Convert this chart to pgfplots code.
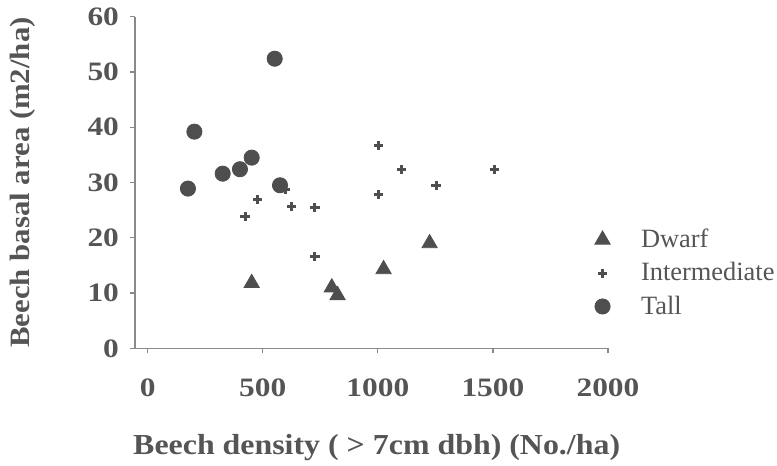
\documentclass[border=0pt]{standalone}
\usepackage{fontspec}
\setmainfont{Liberation Serif}
\newfontfamily\tickfont[FakeStretch=1.18]{Liberation Serif}
\newfontfamily\lblfont[FakeStretch=1.1]{Liberation Serif}
\usepackage{pgfplots}
\pgfplotsset{compat=1.18}
\definecolor{mk}{HTML}{4E4E4E}
\definecolor{txt}{HTML}{555555}
\definecolor{ax}{HTML}{8A8A8A}

\begin{document}
\begin{tikzpicture}
\begin{axis}[
    at={(0,0)}, anchor=south west,
    scale only axis,
    width=236.5pt, height=165.8pt,
    xmin=-55, xmax=2000,
    ymin=0, ymax=60,
    xtick={0,500,1000,1500,2000},
    ytick={0,10,...,60},
    axis x line=bottom, axis y line=left,
    axis line style={ax, -, line width=0.6pt},
    tick style={ax, line width=0.6pt},
    tick align=outside,
    major tick length=2.5pt,
    /pgf/number format/assume math mode=true,
    /pgf/number format/1000 sep={},
    ticklabel style={font=\tickfont\fontsize{13.3}{15}\selectfont\bfseries, text=txt},
    xticklabel style={anchor=center, yshift=-17pt},
    yticklabel style={anchor=east, xshift=-2pt},
    xlabel={Beech density ( > 7cm dbh) (No./ha)},
    ylabel={Beech basal area (m2/ha)},
    xlabel style={font=\lblfont\fontsize{14.5}{16}\selectfont\bfseries, text=txt,
        at={(axis description cs:0.511,-0.298)}, anchor=center},
    ylabel style={font=\lblfont\fontsize{14}{16}\selectfont\bfseries, text=txt,
        at={(axis description cs:-0.237,0.5)}, anchor=center},
    legend image code/.code={\path (0cm,0cm) (1.0cm,0cm);
        \draw[#1] plot coordinates {(0.4cm,0cm)};},
    legend style={draw=none, fill=none, at={(axis description cs:0.926,0.227)}, anchor=west,
        font=\fontsize{13.2}{15}\selectfont, text=txt, row sep=2pt},
    legend cell align=left,
    clip=false,
]
\addplot[only marks, mark=triangle*, mark size=4.4pt, mk, mark options={fill=mk, draw=mk}]
  coordinates {(452,11.8) (800,11.0) (825,9.6) (1025,14.3) (1225,19.0)};
\addlegendentry{Dwarf}
\addplot[only marks, mark=+, mark size=2.3pt, mk, mark options={line width=1.5pt}]
  coordinates {(423,23.9) (477,26.9) (597,28.8) (626,25.7) (727,25.5) (727,16.6)
               (1003,36.7) (1003,27.8) (1104,32.4) (1253,29.4) (1506,32.4)};
\addlegendentry{Intermediate}
\addplot[only marks, mark=*, mark size=3.8pt, mk, mark options={fill=mk, draw=mk}]
  coordinates {(203,39.2) (175,28.9) (326,31.6) (401,32.4) (452,34.5) (552,52.4) (575,29.5)};
\addlegendentry{Tall}
\end{axis}
\pgfresetboundingbox
\useasboundingbox (-67.5pt,-58.85pt) rectangle (321pt,174.15pt);
\end{tikzpicture}
\end{document}
